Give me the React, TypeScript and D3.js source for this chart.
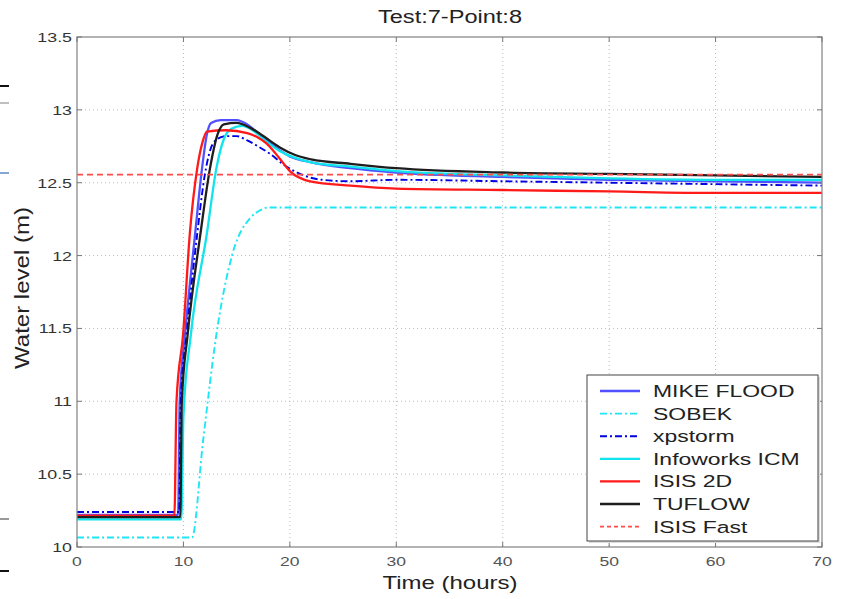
import React from "react";
import * as d3 from "d3";

const title = "Test:7-Point:8";
const xLabel = "Time (hours)";
const yLabel = "Water level (m)";
const xTicks = [0, 10, 20, 30, 40, 50, 60, 70];
const yTicks = [10, 10.5, 11, 11.5, 12, 12.5, 13, 13.5];

const mikeT = [0, 9.5, 9.65, 10.15, 11.1, 11.75, 12.2, 12.6, 13.5, 15, 16, 17, 18, 19.1, 20, 22, 25.7, 30, 40, 50, 60, 70];
const mikeV = [10.22, 10.22, 11.0, 11.46, 12.15, 12.6, 12.83, 12.91, 12.93, 12.93, 12.9, 12.84, 12.78, 12.72, 12.68, 12.64, 12.6, 12.57, 12.54, 12.52, 12.51, 12.5];

const sobekT = [0, 10.8, 11.85, 13.1, 14.6, 16.3, 17.2, 18, 20, 30, 70];
const sobekV = [10.065, 10.065, 10.73, 11.46, 12.01, 12.26, 12.31, 12.33, 12.33, 12.33, 12.33];

const xpT = [0, 9.6, 9.75, 10.3, 11.3, 12.0, 12.5, 13, 14, 15, 16, 17, 18.1, 19.5, 21.3, 23, 25.7, 30, 40, 50, 60, 70];
const xpV = [10.24, 10.24, 11.0, 11.46, 12.15, 12.55, 12.72, 12.79, 12.82, 12.82, 12.79, 12.75, 12.7, 12.62, 12.55, 12.52, 12.51, 12.52, 12.51, 12.5, 12.49, 12.48];

const infoT = [0, 9.8, 10.0, 10.7, 12.2, 13.1, 13.8, 14.5, 15.5, 16.5, 17.5, 19, 20.5, 22, 25.7, 30, 40, 50, 60, 70];
const infoV = [10.19, 10.19, 10.9, 11.46, 12.15, 12.6, 12.8, 12.87, 12.89, 12.86, 12.8, 12.72, 12.67, 12.64, 12.61, 12.58, 12.55, 12.53, 12.52, 12.52];

const isisT = [0, 9.15, 9.35, 9.97, 10.6, 11.3, 11.8, 12.2, 14, 16, 17, 17.8, 19, 20, 21.9, 25.7, 30, 40, 50, 60, 70];
const isisV = [10.215, 10.215, 11.0, 11.46, 12.15, 12.6, 12.78, 12.85, 12.86, 12.84, 12.81, 12.77, 12.67, 12.58, 12.51, 12.48, 12.46, 12.45, 12.44, 12.43, 12.43];

const tufT = [0, 9.7, 9.85, 10.4, 11.6, 12.5, 13.2, 13.8, 15, 16.2, 17.5, 19.1, 20.5, 22, 25.7, 30, 40, 50, 60, 70];
const tufV = [10.205, 10.205, 11.0, 11.46, 12.15, 12.6, 12.83, 12.9, 12.91, 12.88, 12.82, 12.74, 12.69, 12.66, 12.63, 12.6, 12.57, 12.56, 12.55, 12.54];

const fastT = [0, 70];
const fastV = [12.555, 12.555];

const seriesNames = ["MIKE FLOOD", "SOBEK", "xpstorm", "Infoworks ICM", "ISIS 2D", "TUFLOW", "ISIS Fast"];
const seriesT = [mikeT, sobekT, xpT, infoT, isisT, tufT, fastT];
const seriesV = [mikeV, sobekV, xpV, infoV, isisV, tufV, fastV];
const seriesColor = ["#5050ff", "#1ee6f5", "#0000e0", "#10e4ec", "#ff1a1a", "#1e1e1e", "#ff4a4a"];
const seriesDash = [null, "7,3,2,3", "7,3,2,3", null, null, null, "6,4"];
const seriesWidth = [2.3, 1.9, 1.9, 2.3, 2.3, 2.3, 1.7];

const FONT = "'Liberation Sans', Arial, sans-serif";

function SText(props: {
  x: number;
  y: number;
  sx: number;
  size: number;
  anchor?: "start" | "middle" | "end";
  fill?: string;
  weight?: string;
  children: React.ReactNode;
}) {
  return (
    <text
      transform={`translate(${props.x},${props.y}) scale(${props.sx},1)`}
      textAnchor={props.anchor || "start"}
      fontSize={props.size}
      fill={props.fill || "#222"}
      fontWeight={props.weight || "normal"}
    >
      {props.children}
    </text>
  );
}

export default function App() {
  const left = 77, right = 822, top = 37, bottom = 547;
  const x = d3.scaleLinear().domain([0, 70]).range([left, right]);
  const y = d3.scaleLinear().domain([10, 13.5]).range([bottom, top]);
  const line = d3
    .line<[number, number]>()
    .x((d) => x(d[0]))
    .y((d) => y(d[1]))
    .curve(d3.curveMonotoneX);

  const lg = { x: 587, y: 375, w: 231, h: 166, rowH: 22.6 };

  return (
    <svg
      width={850}
      height={599}
      style={{ position: "absolute", left: 0, top: 0, background: "#fff" }}
      fontFamily={FONT}
    >
      <rect x={0} y={0} width={850} height={599} fill="#fff" />
      {/* cropped neighbour figure remnants at left edge */}
      <g>
        <line x1={0} x2={9} y1={86} y2={86} stroke="#111" strokeWidth={2} />
        <line x1={0} x2={9} y1={103} y2={103} stroke="#aaa" strokeWidth={1.5} />
        <line x1={0} x2={9} y1={173} y2={173} stroke="#5a8ac0" strokeWidth={1.5} />
        <line x1={0} x2={9} y1={519} y2={519} stroke="#777" strokeWidth={1.5} />
        <line x1={0} x2={9} y1={571} y2={571} stroke="#111" strokeWidth={2} />
      </g>

      {/* grid */}
      {xTicks.slice(1, -1).map((t) => (
        <line key={"gx" + t} x1={x(t)} x2={x(t)} y1={top} y2={bottom} stroke="#bbb" strokeWidth={1} strokeDasharray="1,3" />
      ))}
      {yTicks.slice(1, -1).map((t) => (
        <line key={"gy" + t} x1={left} x2={right} y1={y(t)} y2={y(t)} stroke="#bbb" strokeWidth={1} strokeDasharray="1,3" />
      ))}

      {/* series */}
      {seriesNames.map((name, i) => (
        <path
          key={name}
          d={line(seriesT[i].map((t, k) => [t, seriesV[i][k]]) as [number, number][]) || ""}
          fill="none"
          stroke={seriesColor[i]}
          strokeWidth={seriesWidth[i]}
          strokeDasharray={seriesDash[i] || undefined}
          strokeLinejoin="round"
        />
      ))}

      {/* frame + ticks */}
      <rect x={left} y={top} width={right - left} height={bottom - top} fill="none" stroke="#8a8a8a" strokeWidth={1.3} />
      {xTicks.map((t) => (
        <g key={"tx" + t}>
          <line x1={x(t)} x2={x(t)} y1={bottom} y2={bottom - 5} stroke="#777" />
          <line x1={x(t)} x2={x(t)} y1={top} y2={top + 5} stroke="#777" />
          <SText x={x(t)} y={566} sx={1.35} size={13} anchor="middle" fill="#555">
            {t}
          </SText>
        </g>
      ))}
      {yTicks.map((t) => (
        <g key={"ty" + t}>
          <line x1={left} x2={left + 5} y1={y(t)} y2={y(t)} stroke="#777" />
          <line x1={right} x2={right - 5} y1={y(t)} y2={y(t)} stroke="#777" />
          <SText x={72} y={y(t) + 5} sx={1.32} size={13.5} anchor="end" fill="#333">
            {t}
          </SText>
        </g>
      ))}

      {/* title & labels */}
      <text x={450} y={23} textAnchor="middle" fontSize={17.5} fill="#222" textLength={144} lengthAdjust="spacingAndGlyphs">
        {title}
      </text>
      <text x={450} y={589} textAnchor="middle" fontSize={18.5} fill="#222" textLength={135} lengthAdjust="spacingAndGlyphs">
        {xLabel}
      </text>
      <text
        transform={`translate(29,288) rotate(-90)`}
        textAnchor="middle"
        fontSize={20}
        fill="#222"
        textLength={162}
        lengthAdjust="spacingAndGlyphs"
      >
        {yLabel}
      </text>

      {/* legend */}
      <rect x={lg.x + 2} y={lg.y + 2} width={lg.w} height={lg.h} fill="#ddd" />
      <rect x={lg.x} y={lg.y} width={lg.w} height={lg.h} fill="#fff" stroke="#444" strokeWidth={1} />
      {seriesNames.map((name, i) => {
        const cy = lg.y + 16 + i * lg.rowH;
        return (
          <g key={"lg" + name}>
            <line
              x1={lg.x + 13}
              x2={lg.x + 53}
              y1={cy}
              y2={cy}
              stroke={seriesColor[i]}
              strokeWidth={seriesWidth[i]}
              strokeDasharray={i === 6 ? "4,3" : seriesDash[i] || undefined}
            />
            <SText x={lg.x + 66} y={cy + 6} sx={1.35} size={17} fill="#222">
              {name}
            </SText>
          </g>
        );
      })}
    </svg>
  );
}
